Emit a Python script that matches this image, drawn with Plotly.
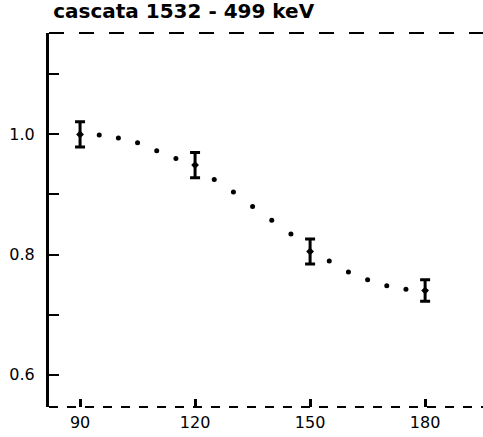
import plotly.graph_objects as go

# measured points
angles = [90, 120, 150, 180]
values = [1.000, 0.949, 0.805, 0.740]
errors = [0.021, 0.021, 0.021, 0.018]

# dotted fit curve (read dot by dot)
curve_angles = [95, 100, 105, 110, 115, 125, 130, 135, 140, 145, 155, 160, 165, 170, 175]
curve_values = [0.999, 0.994, 0.986, 0.973, 0.960, 0.925, 0.904, 0.880, 0.857, 0.834,
                0.789, 0.771, 0.758, 0.748, 0.742]

x_ticks = [90, 120, 150, 180]
x_labels = ["90", "120", "150", "180"]
y_ticks = [0.6, 0.7, 0.8, 0.9, 1.0, 1.1]
y_labels = ["0.6", "", "0.8", "", "1.0", ""]
title_text = "cascata 1532 - 499 keV"

fig = go.Figure()
fig.add_trace(go.Scatter(
    x=curve_angles, y=curve_values, mode="markers",
    marker=dict(color="black", size=5), showlegend=False, hoverinfo="skip"))
fig.add_trace(go.Scatter(
    x=angles, y=values, mode="markers",
    marker=dict(color="black", size=6, symbol="diamond"),
    error_y=dict(type="data", array=errors, color="black", thickness=3, width=5),
    showlegend=False))

# dashed top and bottom frame lines
fig.add_shape(type="line", xref="paper", yref="paper", x0=0, x1=1, y0=1, y1=1,
              line=dict(color="black", width=2, dash="longdash"))
fig.add_shape(type="line", xref="paper", yref="paper", x0=0, x1=1, y0=0, y1=0,
              line=dict(color="black", width=2, dash="dash"))

fig.update_layout(
    width=483, height=437,
    margin=dict(l=49, r=0, t=33, b=30),
    paper_bgcolor="white", plot_bgcolor="white",
    title=dict(text=title_text, x=0.11, xanchor="left", y=0.99, yanchor="top",
               font=dict(family="DejaVu Sans", size=20, color="black", weight="bold")),
    xaxis=dict(range=[81.9, 195.1], tickvals=x_ticks, ticktext=x_labels,
               showgrid=False, zeroline=False, showline=False,
               ticks="inside", ticklen=8, tickwidth=3, tickcolor="black",
               ticklabelstandoff=4,
               tickfont=dict(family="DejaVu Sans", size=16, color="black")),
    yaxis=dict(range=[0.546, 1.169], tickvals=y_ticks, ticktext=y_labels,
               showgrid=False, zeroline=False, showline=True, linewidth=3, linecolor="black",
               ticks="inside", ticklen=10, tickwidth=2, tickcolor="black",
               ticklabelstandoff=8,
               tickfont=dict(family="DejaVu Sans", size=16, color="black")),
)

fig.write_html("out.html")
